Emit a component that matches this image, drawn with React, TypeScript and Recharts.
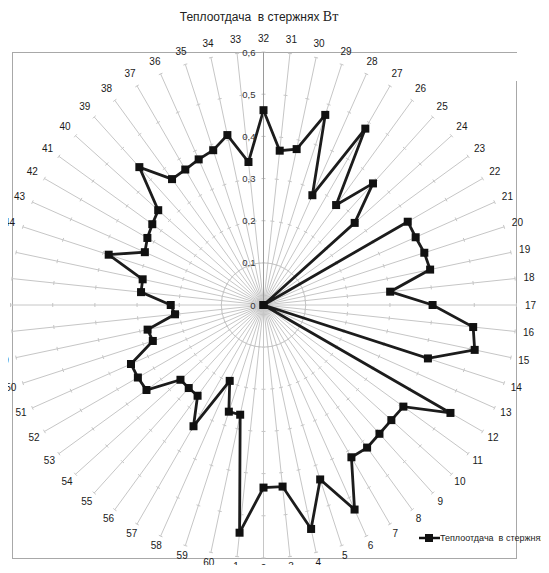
import { Legend, PolarAngleAxis, PolarGrid, PolarRadiusAxis, Radar, RadarChart } from "recharts";

// rod numbers, listed clockwise from the top of the chart (32 on top)
const rods = [
  "32", "31", "30", "29", "28", "27", "26", "25", "24", "23",
  "22", "21", "20", "19", "18", "17", "16", "15", "14", "13",
  "12", "11", "10", "9", "8", "7", "6", "5", "4", "3",
  "2", "1", "60", "59", "58", "57", "56", "55", "54", "53",
  "52", "51", "50", "49", "48", "47", "46", "45", "44", "43",
  "42", "41", "40", "39", "38", "37", "36", "35", "34", "33"
];

// heat transfer per rod, W (same order as rods)
const heat = [
  0.462, 0.368, 0.378, 0.474, 0.285, 0.483, 0.293, 0.388, 0.291, 0,
  0.395, 0.395, 0.401, 0.404, 0.302, 0.401, 0.5, 0.512, 0.41, 0,
  0.512, 0.41, 0.408, 0.411, 0.418, 0.417, 0.531, 0.435, 0.543, 0.433,
  0.433, 0.543, 0.266, 0.266, 0.197, 0.332, 0.266, 0.265, 0.265, 0.343,
  0.344, 0.344, 0.276, 0.281, 0.211, 0.22, 0.292, 0.293, 0.386, 0.308,
  0.318, 0.326, 0.336, 0.44, 0.369, 0.371, 0.378, 0.386, 0.412, 0.341
];

const radiusTicks = [0, 0.1, 0.2, 0.3, 0.4, 0.5, 0.6];
const RMAX = 0.6;

const data = rods.map((rod, i) => ({ rod, heat: heat[i] }));

const CX = 263.5;
const CY = 305;
const R = 253;
const FONT = "'Liberation Sans', Arial, sans-serif";
const SPOKE = "#c6c6c6";

function RodTick({ x, y, payload }: any) {
  const dx = x - CX;
  const dy = y - CY;
  const len = Math.hypot(dx, dy) || 1;
  const r = R + 14 - 4 * Math.max(0, dy / len);
  return (
    <text
      x={CX + (dx / len) * r}
      y={CY + (dy / len) * r}
      textAnchor="middle"
      dominantBaseline="central"
      fontSize={10}
      fontFamily={FONT}
      fill="#1a1a1a"
    >
      {payload.value}
    </text>
  );
}

function HeatTick({ x, y, payload }: any) {
  const v = payload.value as number;
  const label = v === 0 ? "0" : v.toFixed(1).replace(".", ",");
  return (
    <text x={x - 8} y={y + 3.5} textAnchor="end" fontSize={9.5} fontFamily={FONT} fill="#333">
      {label}
    </text>
  );
}

function SquareDot({ cx, cy }: any) {
  return <rect x={cx - 4} y={cy - 4} width={8} height={8} fill="#111" />;
}

function LegendBox() {
  return (
    <div style={{ display: "flex", alignItems: "center", whiteSpace: "nowrap" }}>
      <svg width={22} height={10}>
        <line x1={1} y1={5} x2={22} y2={5} stroke="#111" strokeWidth={2.5} />
        <rect x={7} y={1} width={8} height={8} fill="#111" />
      </svg>
      <span style={{ fontSize: 9, fontFamily: FONT, color: "#222", whiteSpace: "pre" }}>
        Теплоотдача  в стержнях
      </span>
    </div>
  );
}

// small tick marks across every spoke at each 0.1 step
function spokeTicks() {
  const step = Math.PI / rods.length;
  return radiusTicks
    .filter((t) => t > 0)
    .map((t) => {
      const r = (R * t) / RMAX;
      const edge = 2 * r * Math.sin(step);
      const dash = Math.min(2, edge / 4);
      return (
        <PolarGrid
          key={t}
          gridType="polygon"
          polarRadius={[r]}
          radialLines={false}
          stroke={SPOKE}
          strokeDasharray={`${dash} ${edge - 2 * dash} ${dash} 0`}
        />
      );
    });
}

export default function App() {
  return (
    <div style={{ position: "relative", width: 549, height: 573, margin: -8, overflow: "hidden", background: "#fff" }}>
      <div
        style={{
          position: "absolute",
          left: 0,
          top: 9,
          width: 518,
          textAlign: "center",
          fontFamily: FONT,
          fontSize: 12,
          color: "#222",
          whiteSpace: "pre"
        }}
      >
        Теплоотдача  в стержнях{" "}
        <span style={{ fontFamily: "'Liberation Serif', 'DejaVu Serif', serif", fontSize: 14 }}>Вт</span>
      </div>
      <div
        style={{
          position: "absolute",
          left: 12,
          top: 52,
          width: 504,
          height: 505,
          borderLeft: "1px solid #a8a8a8",
          borderTop: "1px solid #a8a8a8",
          borderBottom: "1px solid #a8a8a8"
        }}
      />
      <div style={{ position: "absolute", left: 516, top: 81, width: 0, height: 477, borderLeft: "1px solid #a8a8a8" }} />
      <div style={{ position: "absolute", top: 0, left: 0 }}>
        <RadarChart width={549} height={573} data={data} cx={CX} cy={CY} outerRadius={R}>
          <PolarGrid gridType="circle" polarRadius={[(R * radiusTicks[1]) / RMAX]} stroke={SPOKE} strokeWidth={1} />
          {spokeTicks()}
          <PolarAngleAxis dataKey="rod" tick={RodTick} tickLine={false} axisLine={false} />
          <PolarRadiusAxis
            type="number"
            angle={90}
            domain={[0, RMAX]}
            ticks={radiusTicks}
            tickCount={7}
            allowDecimals
            tick={HeatTick}
            axisLine={{ stroke: "#9a9a9a" }}
          />
          <Radar
            name="Теплоотдача  в стержнях"
            dataKey="heat"
            stroke="#1c1c1c"
            strokeWidth={2.8}
            fill="none"
            fillOpacity={0}
            dot={SquareDot}
            isAnimationActive={false}
          />
          <Legend content={LegendBox} wrapperStyle={{ position: "absolute", left: 418, top: 533, width: 180 }} />
        </RadarChart>
      </div>
    </div>
  );
}
